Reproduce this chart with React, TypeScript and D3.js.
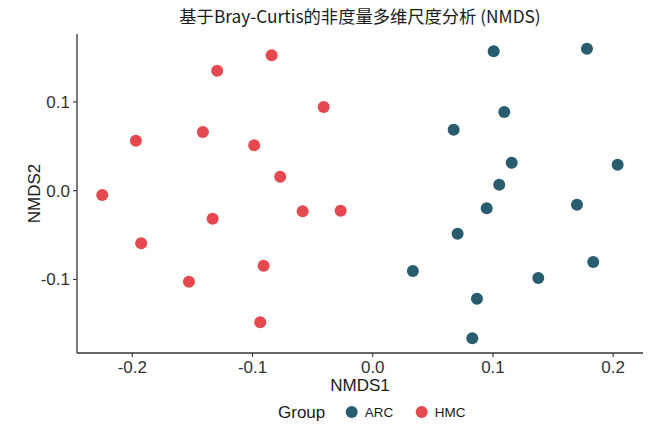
import * as d3 from "d3";

const groups = ["ARC", "HMC"];
const colors = ["#2A5C6F", "#E5494F"];

// NMDS scores
const arcX = [0.1006, 0.1782, 0.1094, 0.0673, 0.1156, 0.2037, 0.1052, 0.0948, 0.1699, 0.0706, 0.0334, 0.1834, 0.1377, 0.0867, 0.0828];
const arcY = [0.157, 0.1599, 0.0886, 0.0687, 0.0315, 0.0293, 0.0068, -0.0198, -0.0158, -0.0484, -0.0904, -0.0803, -0.0983, -0.1216, -0.1662];
const hmcX = [-0.0841, -0.1294, -0.0408, -0.1413, -0.197, -0.0986, -0.077, -0.225, -0.1332, -0.0583, -0.0267, -0.1926, -0.0908, -0.1529, -0.0936];
const hmcY = [0.1525, 0.1351, 0.0943, 0.0661, 0.0563, 0.0511, 0.0158, -0.0048, -0.0315, -0.0232, -0.0225, -0.0592, -0.0845, -0.1025, -0.1482];

const xTicks = [-0.2, -0.1, 0.0, 0.1, 0.2];
const yTicks = [-0.1, 0.0, 0.1];

export default function App() {
  const width = 648;
  const height = 425;
  const margin = {top: 34, right: 5, bottom: 72, left: 77};
  const font = "'Liberation Sans', Arial, sans-serif";

  const x = d3.scaleLinear().domain([-0.246, 0.2248]).range([margin.left, width - margin.right]);
  const y = d3.scaleLinear().domain([-0.1828, 0.1765]).range([height - margin.bottom, margin.top]);

  const points = [
    ...arcX.map((v, i) => ({x: v, y: arcY[i], g: 0})),
    ...hmcX.map((v, i) => ({x: v, y: hmcY[i], g: 1})),
  ];

  const x0 = margin.left;
  const y0 = height - margin.bottom;

  return (
    <svg width={width} height={height} style={{position: "absolute", left: 0, top: 0}}>
      <rect width={width} height={height} fill="#fff" />
      <text x={(x0 + width - margin.right) / 2} y={23} textAnchor="middle"
            fontFamily="'Noto Sans CJK SC', 'Noto Sans', sans-serif" fontSize={17.3} fill="#1a1a1a">
        基于Bray-Curtis的非度量多维尺度分析 (NMDS)
      </text>

      {points.map((p, i) => (
        <circle key={i} cx={x(p.x)} cy={y(p.y)} r={6} fill={colors[p.g]} />
      ))}

      {/* axes */}
      <line x1={x0} x2={width - margin.right} y1={y0} y2={y0} stroke="#333" strokeWidth={1.3} />
      <line x1={x0} x2={x0} y1={margin.top} y2={y0} stroke="#333" strokeWidth={1.3} />

      {xTicks.map(t => (
        <g key={t} transform={`translate(${x(t)},${y0})`}>
          <line y2={4} stroke="#333" strokeWidth={1.1} />
          <text y={20} textAnchor="middle" fontFamily={font} fontSize={17} fill="#333">
            {t.toFixed(1)}
          </text>
        </g>
      ))}
      {yTicks.map(t => (
        <g key={t} transform={`translate(${x0},${y(t)})`}>
          <line x2={-4} stroke="#333" strokeWidth={1.1} />
          <text x={-7} dy="0.35em" textAnchor="end" fontFamily={font} fontSize={17} fill="#333">
            {t.toFixed(1)}
          </text>
        </g>
      ))}

      <text x={(x0 + width - margin.right) / 2} y={391} textAnchor="middle" fontFamily={font} fontSize={17} fill="#1a1a1a">
        NMDS1
      </text>
      <text transform={`translate(40,${(margin.top + y0) / 2}) rotate(-90)`} textAnchor="middle"
            fontFamily={font} fontSize={17} fill="#1a1a1a">
        NMDS2
      </text>

      {/* legend */}
      <text x={278} y={418} fontFamily={font} fontSize={17} fill="#1a1a1a">Group</text>
      {groups.map((g, i) => (
        <g key={g} transform={`translate(${351.7 + i * 70},412)`}>
          <circle r={6} fill={colors[i]} />
          <text x={13} dy="0.35em" fontFamily={font} fontSize={13.5} fill="#1a1a1a">{g}</text>
        </g>
      ))}
    </svg>
  );
}
